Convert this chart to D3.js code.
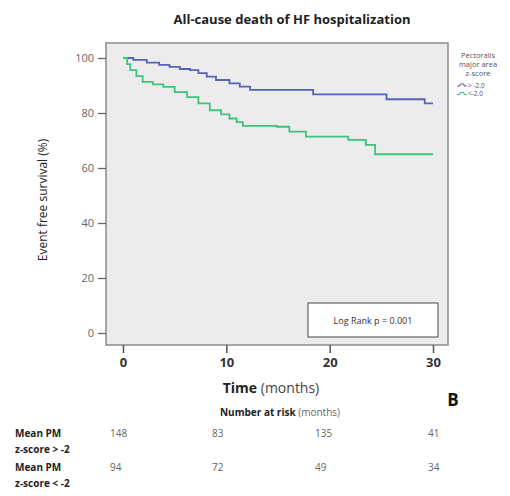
<!DOCTYPE html>
<html>
<head>
<meta charset="utf-8">
<script src="https://cdn.jsdelivr.net/npm/d3@7"></script>
<style>
  body { margin: 0; background: #fff; }
  text { font-family: "Open Sans", sans-serif; }
</style>
</head>
<body>
<div id="chart"></div>
<script>
// Kaplan-Meier curves (months, % event free)
var timesHigh = [0, 1, 2.3, 3.5, 4.5, 5.5, 6.5, 7.3, 8.1, 9, 10.3, 11.3, 12.3, 18.4, 25.5, 29.2, 30];
var survHigh  = [100, 99.3, 98.3, 97.5, 96.8, 96, 95.6, 94.5, 93.2, 92, 90.8, 89.6, 88.4, 86.8, 85, 83.5, 83.5];
var timesLow  = [0, 0.4, 0.7, 1.3, 1.9, 2.9, 3.9, 5, 6.2, 7.3, 8.4, 9.5, 10.3, 11, 11.6, 14.9, 16.1, 17.7, 21.8, 23.5, 24.4, 30];
var survLow   = [100, 97.8, 95.6, 93.4, 91.3, 90.4, 89.5, 87.6, 85.8, 83.5, 81, 79.5, 78, 76.7, 75.3, 75, 73.2, 71.4, 70.2, 68.4, 65, 65];

var xTicks = [0, 10, 20, 30];
var yTicks = [0, 20, 40, 60, 80, 100];
var legendLabels = ["> -2.0", "<-2.0"];
var riskRows = ["Mean PM|z-score > -2", "Mean PM|z-score < -2"];
var riskHigh = [148, 83, 135, 41];
var riskLow = [94, 72, 49, 34];

var W = 510, H = 496;
var svg = d3.select("#chart").append("svg")
  .attr("width", W).attr("height", H);

var x = d3.scaleLinear().domain([0, 30]).range([123, 433]);
var y = d3.scaleLinear().domain([0, 100]).range([333, 58]);

var frame = {l: 106, t: 43, r: 448, b: 345};

// plot background
svg.append("rect")
  .attr("x", frame.l).attr("y", frame.t)
  .attr("width", frame.r - frame.l).attr("height", frame.b - frame.t)
  .attr("fill", "#ececec").attr("stroke", "#8a8a8a").attr("stroke-width", 1.5);

// title
svg.append("text")
  .attr("x", 292).attr("y", 24)
  .attr("text-anchor", "middle")
  .attr("font-size", 13).attr("font-weight", "bold").attr("fill", "#222")
  .text("All-cause death of HF hospitalization");

// axes
var yAxis = svg.append("g")
  .attr("transform", "translate(" + frame.l + ",0)")
  .call(d3.axisLeft(y).tickValues(yTicks).tickSize(8).tickPadding(4));
yAxis.select(".domain").remove();
yAxis.selectAll("line").attr("stroke", "#666").attr("stroke-width", 1.3);
yAxis.selectAll("text").attr("font-size", 11).attr("fill", "#666")
  .style("font-family", "Open Sans");

var xAxis = svg.append("g")
  .attr("transform", "translate(0," + frame.b + ")")
  .call(d3.axisBottom(x).tickValues(xTicks).tickSize(8).tickPadding(5));
xAxis.select(".domain").remove();
xAxis.selectAll("line").attr("stroke", "#555").attr("stroke-width", 1.5);
xAxis.selectAll("text").attr("font-size", 13).attr("font-weight", "bold").attr("fill", "#333")
  .style("font-family", "Open Sans");

// axis titles
svg.append("text")
  .attr("transform", "translate(47,200) rotate(-90)")
  .attr("text-anchor", "middle")
  .attr("font-size", 12).attr("fill", "#222")
  .text("Event free survival (%)");

var xt = svg.append("text")
  .attr("x", 271).attr("y", 393)
  .attr("text-anchor", "middle")
  .attr("font-size", 14).attr("fill", "#222");
xt.append("tspan").attr("font-weight", "bold").text("Time");
xt.append("tspan").attr("fill", "#444").text(" (months)");

svg.append("text")
  .attr("x", 453).attr("y", 406)
  .attr("text-anchor", "middle")
  .attr("font-size", 17).attr("font-weight", "bold").attr("fill", "#111")
  .text("B");

// survival curves
var line = d3.line()
  .x(function(d) { return x(d[0]); })
  .y(function(d) { return y(d[1]); })
  .curve(d3.curveStepAfter);

var curves = [
  {t: timesHigh, s: survHigh, color: "#5563b8"},
  {t: timesLow, s: survLow, color: "#3fc27e"}
];
curves.forEach(function(c) {
  svg.append("path")
    .datum(c.t.map(function(t, i) { return [t, c.s[i]]; }))
    .attr("d", line)
    .attr("fill", "none")
    .attr("stroke", c.color)
    .attr("stroke-width", 1.8);
});

// log rank box
svg.append("rect")
  .attr("x", 308).attr("y", 303).attr("width", 130).attr("height", 34)
  .attr("fill", "#fff").attr("stroke", "#666").attr("stroke-width", 1.2);
svg.append("text")
  .attr("x", 373).attr("y", 324)
  .attr("text-anchor", "middle")
  .attr("font-size", 9).attr("fill", "#333")
  .text("Log Rank p = 0.001");

// legend
var legTitle = ["Pectoralis", "major area", "z-score"];
svg.selectAll(".legt").data(legTitle).enter().append("text")
  .attr("x", 478).attr("y", function(d, i) { return 58 + i * 9; })
  .attr("text-anchor", "middle")
  .attr("font-size", 7.5).attr("fill", "#555")
  .text(function(d) { return d; });
legendLabels.forEach(function(lab, i) {
  var ly = 85 + i * 8.5;
  svg.append("path")
    .attr("d", "M457," + (ly + 1) + "L460," + (ly + 1) + "L460," + (ly - 1) + "L464," + (ly - 1) + "L464," + (ly + 1) + "L467," + (ly + 1))
    .attr("fill", "none").attr("stroke", curves[i].color).attr("stroke-width", 1);
  svg.append("text")
    .attr("x", 468).attr("y", ly + 2.5)
    .attr("font-size", 6.5).attr("fill", "#555")
    .text(lab);
});

// number at risk
var nr = svg.append("text")
  .attr("x", 280).attr("y", 416)
  .attr("text-anchor", "middle")
  .attr("font-size", 10).attr("fill", "#222");
nr.append("tspan").attr("font-weight", "bold").text("Number at risk");
nr.append("tspan").attr("fill", "#666").text(" (months)");

var riskX = [110, 212, 315, 428];
[riskHigh, riskLow].forEach(function(vals, r) {
  var baseY = 437 + r * 34;
  var parts = riskRows[r].split("|");
  svg.append("text")
    .attr("x", 15).attr("y", baseY)
    .attr("font-size", 10).attr("font-weight", "bold").attr("fill", "#222")
    .text(parts[0]);
  svg.append("text")
    .attr("x", 15).attr("y", baseY + 16)
    .attr("font-size", 10).attr("font-weight", "bold").attr("fill", "#222")
    .text(parts[1]);
  svg.selectAll(".risk" + r).data(vals).enter().append("text")
    .attr("x", function(d, i) { return riskX[i]; })
    .attr("y", baseY)
    .attr("font-size", 10).attr("fill", "#666")
    .text(function(d) { return d; });
});
</script>
</body>
</html>
